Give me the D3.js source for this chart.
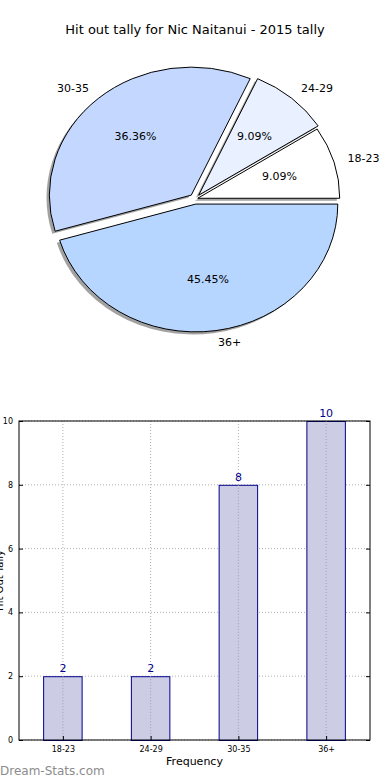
<!DOCTYPE html>
<html>
<head>
<meta charset="utf-8">
<script src="https://cdn.jsdelivr.net/npm/d3@7"></script>
<style>
  body { margin: 0; background: #fff; }
  svg { display: block; font-family: "DejaVu Sans", sans-serif; }
</style>
</head>
<body>
<div id="chart"></div>
<script>
// Data
const categories = ["18-23", "24-29", "30-35", "36+"];
const counts = [2, 2, 8, 10];
const yTicks = [0, 2, 4, 6, 8, 10];
const title = "Hit out tally for Nic Naitanui - 2015 tally";

const W = 390, H = 780;
const svg = d3.select("#chart").append("svg")
    .attr("width", W)
    .attr("height", H);

// Title
svg.append("text")
    .attr("x", 195).attr("y", 30)
    .attr("text-anchor", "middle")
    .attr("dominant-baseline", "middle")
    .style("font-size", "13px")
    .text(title);

// ---- Pie (elliptical, like matplotlib without equal aspect) ----
const cx = 195, cy = 199, rx = 142, ry = 128;
const explode = [0.02, 0.04, 0.04, 0.04];
const pieColors = ["#ffffff", "#e9f0ff", "#c4d8ff", "#b7d6ff"];
const total = d3.sum(counts);

const pie = d3.pie().sort(null)
    .startAngle(Math.PI / 2)
    .endAngle(Math.PI / 2 - 2 * Math.PI);
const arcs = pie(counts);
const unitArc = d3.arc().innerRadius(0).outerRadius(1);

function offset(d, i) {
    const m = (d.startAngle + d.endAngle) / 2;
    return [cx + explode[i] * rx * Math.sin(m), cy - explode[i] * ry * Math.cos(m)];
}

const pieG = svg.append("g");

// shadows first
pieG.selectAll(".shadow")
    .data(arcs)
    .enter().append("path")
    .attr("class", "shadow")
    .attr("transform", (d, i) => {
        const o = offset(d, i);
        return `translate(${o[0] - 0.02 * rx},${o[1] + 0.02 * ry}) scale(${rx},${ry})`;
    })
    .attr("d", unitArc)
    .attr("fill", "#555")
    .attr("opacity", 0.55);

pieG.selectAll(".wedge")
    .data(arcs)
    .enter().append("path")
    .attr("class", "wedge")
    .attr("transform", (d, i) => {
        const o = offset(d, i);
        return `translate(${o[0]},${o[1]}) scale(${rx},${ry})`;
    })
    .attr("d", unitArc)
    .attr("fill", (d, i) => pieColors[i])
    .attr("stroke", "#000")
    .attr("stroke-width", 1)
    .attr("vector-effect", "non-scaling-stroke");

// category labels
pieG.selectAll(".lab")
    .data(arcs)
    .enter().append("text")
    .attr("class", "lab")
    .attr("x", (d, i) => offset(d, i)[0] + 1.1 * rx * Math.sin((d.startAngle + d.endAngle) / 2))
    .attr("y", (d, i) => offset(d, i)[1] - 1.1 * ry * Math.cos((d.startAngle + d.endAngle) / 2))
    .attr("text-anchor", d => Math.sin((d.startAngle + d.endAngle) / 2) > 0 ? "start" : "end")
    .attr("dominant-baseline", "middle")
    .style("font-size", "11px")
    .text((d, i) => categories[i]);

// percentage labels
pieG.selectAll(".pct")
    .data(arcs)
    .enter().append("text")
    .attr("class", "pct")
    .attr("x", (d, i) => offset(d, i)[0] + 0.6 * rx * Math.sin((d.startAngle + d.endAngle) / 2))
    .attr("y", (d, i) => offset(d, i)[1] - 0.6 * ry * Math.cos((d.startAngle + d.endAngle) / 2))
    .attr("text-anchor", "middle")
    .attr("dominant-baseline", "middle")
    .style("font-size", "11px")
    .text(d => (d.value / total * 100).toFixed(2) + "%");

// ---- Bar chart ----
const plot = { left: 19, right: 370, top: 421, bottom: 740 };
const x = d3.scaleLinear().domain([-0.5, categories.length - 0.5]).range([plot.left, plot.right]);
const y = d3.scaleLinear().domain([0, 10]).range([plot.bottom, plot.top]);
const barW = 0.45;

const bar = svg.append("g");

// grid
bar.selectAll(".gx")
    .data(categories)
    .enter().append("line")
    .attr("x1", (d, i) => x(i)).attr("x2", (d, i) => x(i))
    .attr("y1", plot.top).attr("y2", plot.bottom)
    .attr("stroke", "#b0b0b0")
    .attr("stroke-dasharray", "1,2");
bar.selectAll(".gy")
    .data(yTicks)
    .enter().append("line")
    .attr("x1", plot.left).attr("x2", plot.right)
    .attr("y1", d => y(d)).attr("y2", d => y(d))
    .attr("stroke", "#b0b0b0")
    .attr("stroke-dasharray", "1,2");

// bars
bar.selectAll(".bar")
    .data(counts)
    .enter().append("rect")
    .attr("x", (d, i) => x(i - barW / 2) + 0.5)
    .attr("y", d => y(d) + 0.5)
    .attr("width", x(barW) - x(0) - 1)
    .attr("height", d => y(0) - y(d))
    .attr("fill", "#ccccE5")
    .attr("stroke", "#00008b")
    .attr("stroke-width", 1);

// grid over bars (matplotlib draws grid above)
bar.selectAll(".gx2")
    .data(categories)
    .enter().append("line")
    .attr("x1", (d, i) => x(i)).attr("x2", (d, i) => x(i))
    .attr("y1", (d, i) => y(counts[i])).attr("y2", plot.bottom)
    .attr("stroke", "#a0a0a8")
    .attr("stroke-dasharray", "1,2");

// value labels
bar.selectAll(".val")
    .data(counts)
    .enter().append("text")
    .attr("x", (d, i) => x(i))
    .attr("y", d => y(d) - 4)
    .attr("text-anchor", "middle")
    .attr("fill", "#00008b")
    .style("font-size", "11px")
    .text(d => d);

// frame
bar.append("rect")
    .attr("x", plot.left).attr("y", plot.top)
    .attr("width", plot.right - plot.left)
    .attr("height", plot.bottom - plot.top)
    .attr("fill", "none")
    .attr("stroke", "#000")
    .attr("stroke-width", 1);

// y axis ticks
const yAxis = d3.axisLeft(y).tickValues(yTicks).tickSize(-4).tickPadding(6);
bar.append("g")
    .attr("transform", `translate(${plot.left},0)`)
    .call(yAxis)
    .call(g => g.select(".domain").remove())
    .call(g => g.selectAll("text").style("font-size", "8px").style("font-family", "DejaVu Sans"));
bar.append("g")
    .attr("transform", `translate(${plot.right},0)`)
    .call(d3.axisRight(y).tickValues(yTicks).tickSize(-4).tickFormat(""))
    .call(g => g.select(".domain").remove());

// x axis ticks
const xAxis = d3.axisBottom(x).tickValues(d3.range(categories.length))
    .tickFormat(i => categories[i]).tickSize(-4).tickPadding(6);
bar.append("g")
    .attr("transform", `translate(0,${plot.bottom})`)
    .call(xAxis)
    .call(g => g.select(".domain").remove())
    .call(g => g.selectAll("text").style("font-size", "8px").style("font-family", "DejaVu Sans"));

// axis labels
svg.append("text")
    .attr("x", x(1.5)).attr("y", 765)
    .attr("text-anchor", "middle")
    .style("font-size", "11px")
    .text("Frequency");

// y label is clipped by the left edge in the original
svg.append("text")
    .attr("transform", `translate(3,${(plot.top + plot.bottom) / 2}) rotate(-90)`)
    .attr("text-anchor", "middle")
    .style("font-size", "10px")
    .text("Hit Out Tally");

// watermark
svg.append("text")
    .attr("x", 0).attr("y", 775)
    .attr("fill", "#8c8c8c")
    .style("font-size", "12px")
    .text("Dream-Stats.com");
</script>
</body>
</html>
